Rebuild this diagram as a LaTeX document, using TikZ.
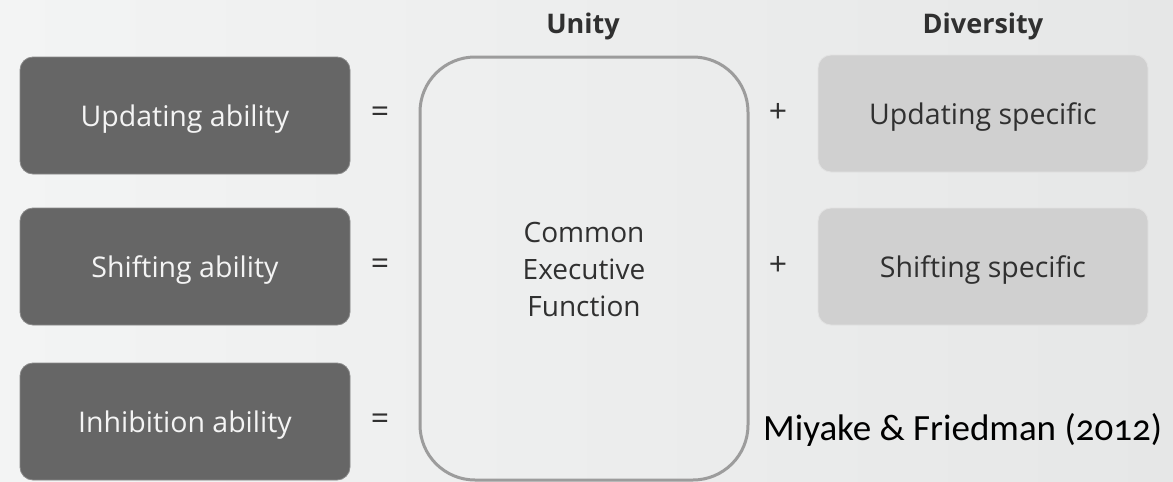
\documentclass[tikz,border=0pt]{standalone}
\usepackage{fontspec}
\setmainfont{Open Sans}
\newfontfamily\citefont[Numbers=OldStyle]{Carlito}
\usetikzlibrary{shapes.misc}
\definecolor{darkbox}{HTML}{666666}
\definecolor{darkedge}{HTML}{8A8A8A}
\definecolor{lightbox}{HTML}{D0D0D0}
\definecolor{lightedge}{HTML}{E2E2E2}
\definecolor{bigedge}{HTML}{9C9C9C}
\definecolor{bgl}{HTML}{F3F4F4}
\definecolor{bgr}{HTML}{E6E7E7}
\definecolor{lighttext}{HTML}{F4F4F4}
\definecolor{darktext}{HTML}{303030}
\tikzset{
  abilitybox/.style={rectangle, rounded corners=13pt, fill=darkbox, draw=darkedge, line width=0.8pt,
    minimum width=330pt, minimum height=117pt, text=lighttext, text depth=0pt, font=\fontsize{28.5}{34}\selectfont},
  specbox/.style={rectangle, rounded corners=13pt, fill=lightbox, draw=lightedge, line width=0.8pt,
    minimum width=330pt, minimum height=117pt, text=darktext, text depth=0pt, font=\fontsize{28.5}{34}\selectfont},
  bigbox/.style={rectangle, rounded corners=55pt, draw=bigedge, line width=3pt,
    minimum width=328pt, minimum height=423pt},
  optext/.style={text=darktext, font=\fontsize{32}{36}\selectfont},
  headtext/.style={text=darktext, font=\fontsize{27}{32}\selectfont\bfseries},
  centertext/.style={text=darktext, align=center, font=\fontsize{28}{37}\selectfont}
}
\begin{document}
\begin{tikzpicture}[x=1pt,y=-1pt]
\shade[left color=bgl, right color=bgr] (0,0) rectangle (1173,482);
\useasboundingbox (0,0) rectangle (1173,482);
% left column
\node[abilitybox] (upd) at (185,115.5) {Updating ability};
\node[abilitybox] (shi) at (185,266.5) {Shifting ability};
\node[abilitybox] (inh) at (185,421.5) {Inhibition ability};
% equals signs
\node[optext] (eq1) at (380,115) {=};
\node[optext] (eq2) at (380,267) {=};
\node[optext] (eq3) at (380,422) {=};
% unity
\node[headtext] (unity) at (583,26) {Unity};
\node[bigbox] (common) at (584,268.5) {};
\node[centertext] (cef) at (584,269) {Common\\Executive\\Function};
% plus signs
\node[optext] (pl1) at (778,113) {+};
\node[optext] (pl2) at (778,266) {+};
% diversity
\node[headtext] (div) at (983,26) {Diversity};
\node[specbox] (uspec) at (983,113.5) {Updating specific};
\node[specbox] (sspec) at (983,266.5) {Shifting specific};
% citation
\node[anchor=base west, inner sep=0pt, font=\citefont\fontsize{37}{42}\selectfont, text=black] (cite) at (763,440) {Miyake \& Friedman (2012)};
\end{tikzpicture}
\end{document}
